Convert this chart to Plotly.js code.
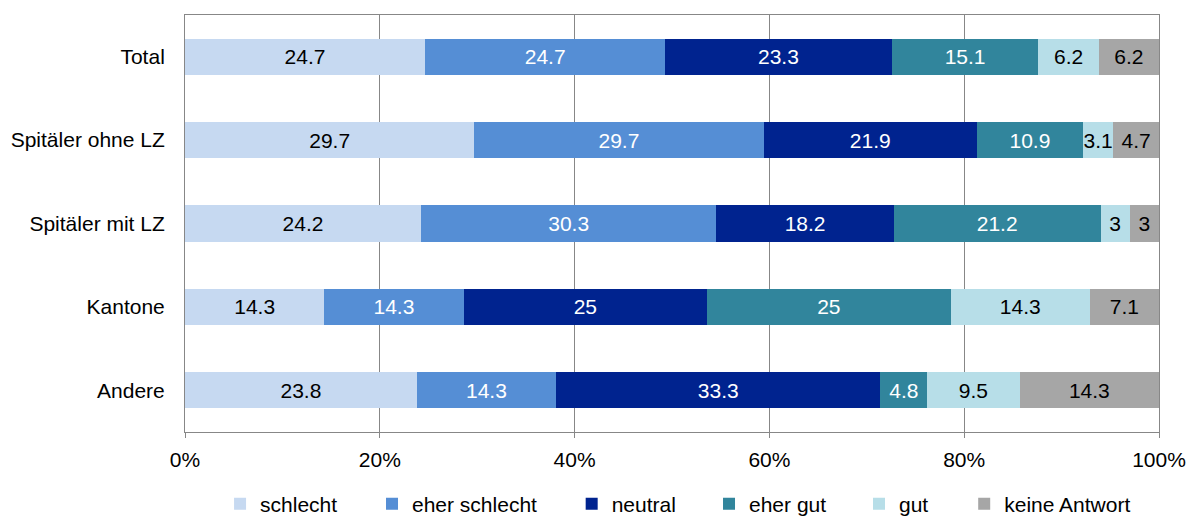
<!DOCTYPE html>
<html>
<head>
<meta charset="utf-8">
<script src="https://cdn.plot.ly/plotly-3.0.1.min.js"></script>
<style>html,body{margin:0;padding:0;background:#fff;}#chart{width:1189px;height:516px;}</style>
</head>
<body>
<div id="chart"></div>
<script>
const categories = ["Total", "Spitäler ohne LZ", "Spitäler mit LZ", "Kantone", "Andere"];
const seriesNames = ["schlecht", "eher schlecht", "neutral", "eher gut", "gut", "keine Antwort"];
const schlecht = [24.7, 29.7, 24.2, 14.3, 23.8];
const eherSchlecht = [24.7, 29.7, 30.3, 14.3, 14.3];
const neutral = [23.3, 21.9, 18.2, 25, 33.3];
const eherGut = [15.1, 10.9, 21.2, 25, 4.8];
const gut = [6.2, 3.1, 3, 14.3, 9.5];
const keineAntwort = [6.2, 4.7, 3, 7.1, 14.3];
const xTickVals = [0, 20, 40, 60, 80, 100];
const xTickText = ["0%", "20%", "40%", "60%", "80%", "100%"];

const seriesValues = [schlecht, eherSchlecht, neutral, eherGut, gut, keineAntwort];
const colors = ["#c6d9f1", "#558ed5", "#00238f", "#31859c", "#b7dee8", "#a6a6a6"];
const textColors = ["#000000", "#ffffff", "#ffffff", "#ffffff", "#000000", "#000000"];
const legendIds = ["legend", "legend2", "legend3", "legend4", "legend5", "legend6"];
const legendX = [0.036, 0.192, 0.397, 0.538, 0.692, 0.800];

const FONT = "Liberation Sans, Arial, sans-serif";
const FS = 21;

const data = seriesValues.map((vals, i) => ({
  type: "bar",
  orientation: "h",
  name: seriesNames[i],
  y: categories,
  x: vals,
  text: vals.map(v => String(v)),
  texttemplate: "%{text}",
  textposition: "inside",
  insidetextanchor: "middle",
  textangle: 0,
  constraintext: "none",
  insidetextfont: {family: FONT, size: FS, color: textColors[i]},
  marker: {color: colors[i], line: {width: 0}},
  legend: legendIds[i],
  hoverinfo: "skip"
}));

const layout = {
  width: 1189,
  height: 516,
  margin: {l: 185, r: 30, t: 15, b: 84, autoexpand: false},
  paper_bgcolor: "#ffffff",
  plot_bgcolor: "#ffffff",
  barmode: "stack",
  barnorm: "percent",
  bargap: 0.568,
  font: {family: FONT, size: FS, color: "#000000"},
  uniformtext: {mode: "show", minsize: FS},
  xaxis: {
    range: [0, 100],
    tickvals: xTickVals,
    ticktext: xTickText,
    showgrid: true,
    gridcolor: "#878787",
    gridwidth: 1,
    showline: true,
    linecolor: "#878787",
    linewidth: 1,
    mirror: true,
    ticks: "outside",
    ticklen: 5,
    tickcolor: "#878787",
    ticklabelstandoff: 4,
    tickfont: {family: FONT, size: FS, color: "#000000"},
    zeroline: false,
    automargin: false,
    fixedrange: true
  },
  yaxis: {
    type: "category",
    categoryorder: "array",
    categoryarray: categories,
    autorange: "reversed",
    showgrid: false,
    showline: true,
    linecolor: "#878787",
    linewidth: 1,
    mirror: true,
    ticks: "",
    ticklabelstandoff: 15,
    tickfont: {family: FONT, size: FS, color: "#000000"},
    zeroline: false,
    automargin: false,
    fixedrange: true
  },
  showlegend: true
};

legendIds.forEach((id, i) => {
  layout[id] = {
    orientation: "h",
    x: legendX[i],
    xanchor: "left",
    xref: "paper",
    y: 0.0233,
    yref: "container",
    yanchor: "middle",
    font: {family: FONT, size: FS, color: "#000000"},
    bgcolor: "rgba(0,0,0,0)",
    borderwidth: 0,
    itemwidth: 30
  };
});

Plotly.newPlot("chart", data, layout, {staticPlot: true, displayModeBar: false});
</script>
</body>
</html>
